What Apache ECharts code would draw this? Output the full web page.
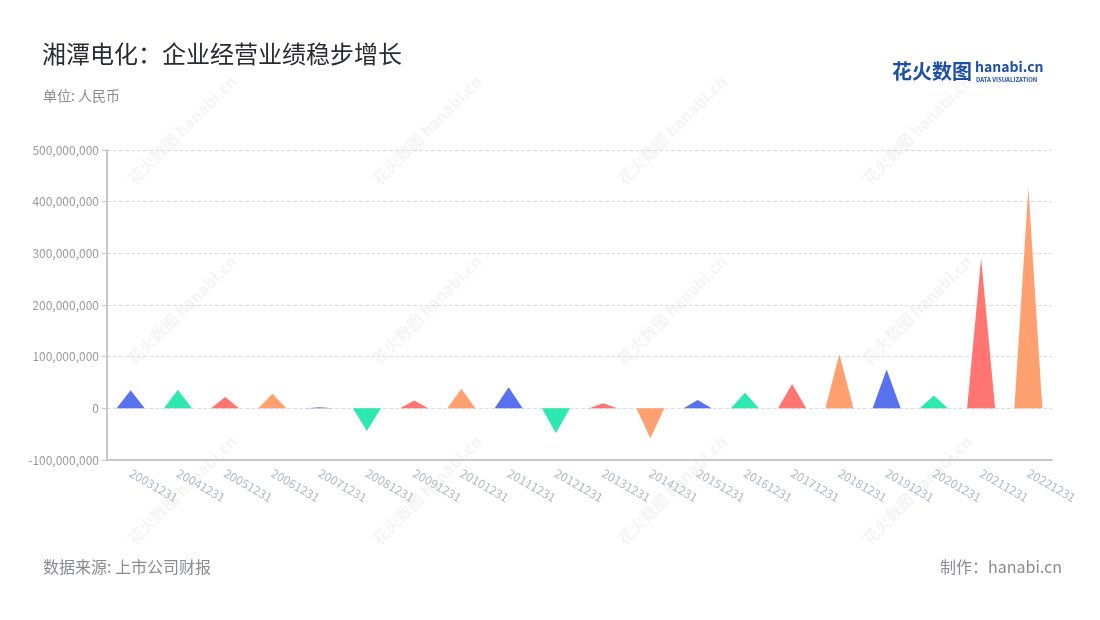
<!DOCTYPE html>
<html>
<head>
<meta charset="utf-8">
<script src="https://cdn.jsdelivr.net/npm/echarts@6/dist/echarts.min.js"></script>
<style>
html,body{margin:0;padding:0;background:#fff;}
#main{width:1100px;height:620px;}
</style>
</head>
<body>
<div id="main"></div>
<script>
var categories = ['20031231','20041231','20051231','20061231','20071231','20081231','20091231','20101231','20111231','20121231','20131231','20141231','20151231','20161231','20171231','20181231','20191231','20201231','20211231','20221231'];
var profitValues = [35000000, 36000000, 22000000, 28000000, 2000000, -44000000, 15000000, 38000000, 41000000, -48000000, 10000000, -58000000, 16000000, 30000000, 47000000, 105000000, 75000000, 25000000, 290000000, 427000000];
var palette = ['#5771ef', '#2de8b0', '#ff7571', '#ffa070'];

var FONT = '"Noto Sans CJK SC", "Noto Sans", sans-serif';

// watermark graphics
var watermarks = [];
var colsX = [182, 427, 672, 917];
var rowsY = [130, 310, 490];
rowsY.forEach(function (yy) {
  colsX.forEach(function (xx) {
    watermarks.push({
      type: 'text',
      x: xx, y: yy,
      rotation: Math.PI / 4,
      silent: true,
      z: -10,
      style: {
        text: '花火数图 hanabi.cn',
        font: 'bold 16px ' + FONT,
        fill: 'rgba(150,150,150,0.10)',
        align: 'center',
        verticalAlign: 'middle'
      }
    });
  });
});

var chart = echarts.init(document.getElementById('main'));
var option = {
  backgroundColor: '#fff',
  textStyle: { fontFamily: FONT },
  title: [
    { text: '湘潭电化：企业经营业绩稳步增长', left: 37, top: 37,
      textStyle: { fontSize: 24, fontWeight: 'normal', color: '#2a2a35', fontFamily: FONT } },
    { text: '单位: 人民币', left: 38, top: 84,
      textStyle: { fontSize: 14, fontWeight: 'normal', color: '#8a8a95', fontFamily: FONT } },
    { text: '数据来源: 上市公司财报', left: 38, top: 554,
      textStyle: { fontSize: 16, fontWeight: 'normal', color: '#8a8a95', fontFamily: FONT } },
    { text: '制作：hanabi.cn', right: 33, top: 554,
      textStyle: { fontSize: 16, fontWeight: 'normal', color: '#8a8a95', fontFamily: FONT } }
  ],
  graphic: watermarks.concat([
    { type: 'text', left: 892, top: 61,
      style: { text: '花火数图', font: 'bold 20px ' + FONT, fill: '#1d4fa6' } },
    { type: 'text', left: 975, top: 60,
      style: { text: 'hanabi.cn', font: 'bold 14px ' + FONT, fill: '#1d4fa6' } },
    { type: 'text', left: 976, top: 77,
      style: { text: 'DATA VISUALIZATION', font: 'bold 6px ' + FONT, fill: '#1d4fa6' } }
  ]),
  grid: { left: 107, right: 48, top: 150, bottom: 160, containLabel: false },
  xAxis: {
    type: 'category',
    data: categories,
    axisLine: { onZero: false, lineStyle: { color: '#c8c8c8', width: 2 } },
    axisTick: { alignWithLabel: true, lineStyle: { color: '#999' }, length: 5 },
    axisLabel: { rotate: -30, color: '#b3b8c8', fontSize: 12, margin: 12, fontFamily: FONT }
  },
  yAxis: {
    type: 'value',
    min: -100000000,
    max: 500000000,
    interval: 100000000,
    axisLine: { show: true, lineStyle: { color: '#c8c8c8', width: 2 } },
    axisTick: { show: true, lineStyle: { color: '#c8c8c8' }, length: 5 },
    axisLabel: {
      color: '#9a9a9a', fontSize: 12, margin: 8, fontFamily: FONT,
      formatter: function (v) { return v.toLocaleString('en-US'); }
    },
    splitLine: { lineStyle: { type: 'dashed', color: '#dddddd' } }
  },
  series: [{
    type: 'pictorialBar',
    symbol: 'triangle',
    symbolSize: [28, '100%'],
    barWidth: 28,
    data: profitValues.map(function (v, i) {
      return { value: v, itemStyle: { color: palette[i % 4] } };
    })
  }]
};
chart.setOption(option);
</script>
</body>
</html>
